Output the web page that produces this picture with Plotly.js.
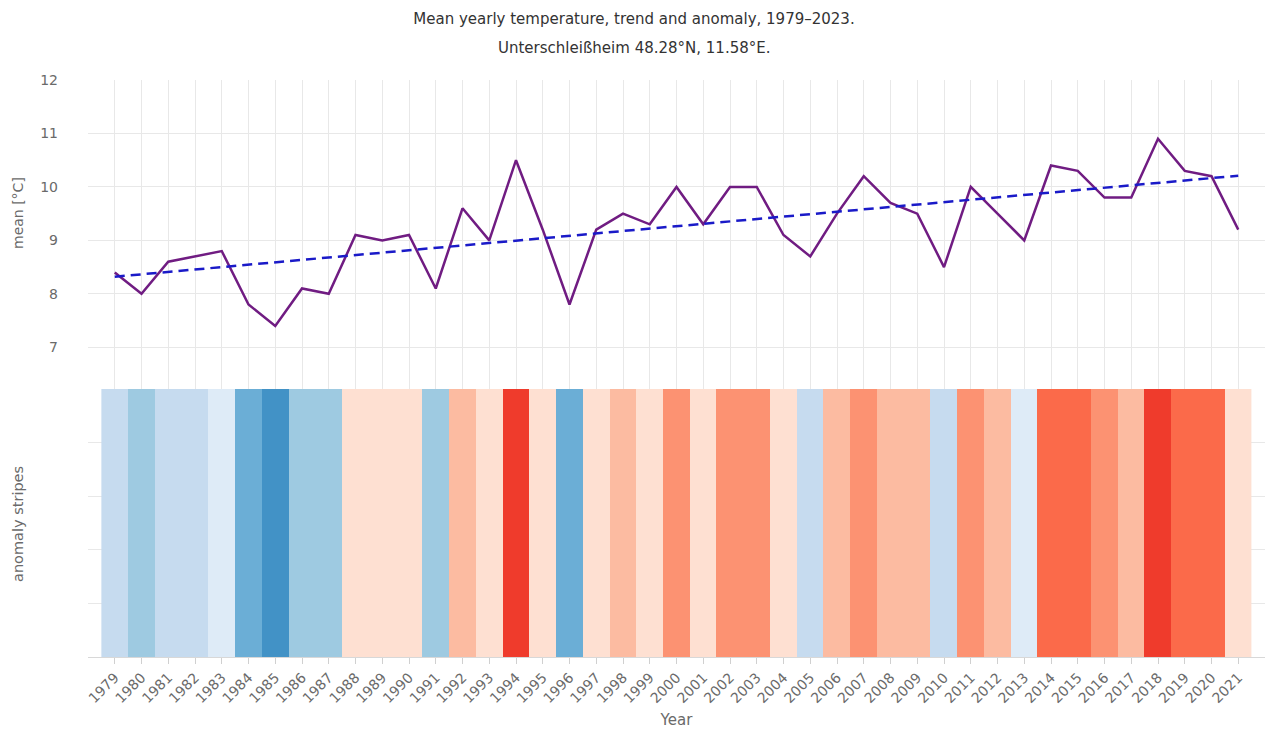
<!DOCTYPE html>
<html>
<head>
<meta charset="utf-8">
<script src="https://cdn.plot.ly/plotly-3.0.1.min.js"></script>
<style>html,body{margin:0;padding:0;background:#fff;}#chart{width:1268px;height:729px;}</style>
</head>
<body>
<div id="chart"></div>
<script>
const years = [1979,1980,1981,1982,1983,1984,1985,1986,1987,1988,1989,1990,1991,1992,1993,1994,1995,1996,1997,1998,1999,2000,2001,2002,2003,2004,2005,2006,2007,2008,2009,2010,2011,2012,2013,2014,2015,2016,2017,2018,2019,2020,2021];
const meanTemp = [8.4,8.0,8.6,8.7,8.8,7.8,7.4,8.1,8.0,9.1,9.0,9.1,8.1,9.6,9.0,10.5,9.2,7.8,9.2,9.5,9.3,10.0,9.3,10.0,10.0,9.1,8.7,9.5,10.2,9.7,9.5,8.5,10.0,9.5,9.0,10.4,10.3,9.8,9.8,10.9,10.3,10.2,9.2];
const trendYears = [1979, 2021];
const trendValues = [8.32, 10.21];
const anomaly = [-0.6,-1.0,-0.4,-0.4,-0.2,-1.2,-1.6,-0.9,-1.0,0.1,0.05,0.1,-0.9,0.6,0.05,1.5,0.2,-1.2,0.2,0.5,0.3,1.0,0.3,1.0,1.0,0.1,-0.4,0.5,1.0,0.65,0.5,-0.5,1.0,0.5,-0.05,1.35,1.3,0.8,0.68,1.7,1.3,1.2,0.2];
const stripeColors = ['#4292c6','#6baed6','#9ecae1','#c6dbef','#deebf7','#fee0d2','#fcbba1','#fc9272','#fb6a4a','#ef3b2c'];
const stripeSpan = [0, 5];

const colorscale = [];
stripeColors.forEach((c, i) => {
  colorscale.push([i / stripeColors.length, c]);
  colorscale.push([(i + 1) / stripeColors.length, c]);
});

const font = 'DejaVu Sans, sans-serif';
const grid = '#e8e8e8';
const tickColor = '#6a6a6a';

const traces = [
  {
    type: 'heatmap', x: years, y: stripeSpan, z: [anomaly],
    xaxis: 'x', yaxis: 'y',
    colorscale: colorscale, zmin: -1.75, zmax: 1.75, showscale: false,
    hoverinfo: 'x+z'
  },
  {
    type: 'scatter', mode: 'lines', x: years, y: meanTemp,
    xaxis: 'x', yaxis: 'y2',
    line: {color: '#701c82', width: 2.5}, name: 'mean'
  },
  {
    type: 'scatter', mode: 'lines', x: trendYears, y: trendValues,
    xaxis: 'x', yaxis: 'y2',
    line: {color: '#1a1ac8', width: 2.5, dash: '10px,6px'}, name: 'trend'
  }
];

const split = 0.4645;
const layout = {
  width: 1268, height: 729,
  paper_bgcolor: '#fff', plot_bgcolor: '#fff',
  margin: {l: 88, r: 3, t: 80, b: 72},
  showlegend: false,
  font: {family: font, size: 14, color: tickColor},
  title: {
    text: 'Mean yearly temperature, trend and anomaly, 1979–2023.',
    font: {family: font, size: 15, color: '#333'},
    x: 0.5, xanchor: 'center', y: 1 - 19 / 729, yanchor: 'middle'
  },
  xaxis: {
    anchor: 'y', range: [1978, 2022],
    tickmode: 'array', tickvals: years, ticktext: years.map(String),
    tickangle: -45, ticks: 'outside', ticklen: 6, tickcolor: '#d0d0d0',
    showgrid: true, gridcolor: grid, zeroline: false,
    showline: true, linecolor: '#d8d8d8', linewidth: 1,
    tickfont: {family: font, size: 14, color: tickColor},
    title: {text: 'Year', font: {family: font, size: 15, color: tickColor}, standoff: 10}
  },
  yaxis: {
    domain: [0, split], range: [0, 5], dtick: 1,
    showticklabels: false, showgrid: true, gridcolor: grid, zeroline: false, ticks: ''
  },
  yaxis2: {
    domain: [split, 1], range: [6.22, 12], dtick: 1,
    showgrid: true, gridcolor: grid, zeroline: false, ticks: '',
    ticklabelstandoff: 29,
    tickfont: {family: font, size: 14, color: tickColor}
  },
  annotations: [
    {text: 'Unterschleißheim 48.28°N, 11.58°E.', xref: 'paper', yref: 'paper',
     x: (634 - 88) / 1177, xanchor: 'center', y: (729 - 72 - 48) / 577, yanchor: 'middle',
     showarrow: false, font: {family: font, size: 15, color: '#333'}},
    {text: 'mean [°C]', xref: 'paper', yref: 'paper', textangle: -90,
     x: -70 / 1177, xanchor: 'center', y: (729 - 72 - 213) / 577, yanchor: 'middle',
     showarrow: false, font: {family: font, size: 14, color: tickColor}},
    {text: 'anomaly stripes', xref: 'paper', yref: 'paper', textangle: -90,
     x: -70 / 1177, xanchor: 'center', y: (729 - 72 - 524) / 577, yanchor: 'middle',
     showarrow: false, font: {family: font, size: 14.5, color: tickColor}}
  ]
};

Plotly.newPlot('chart', traces, layout, {displayModeBar: false, staticPlot: true});
</script>
</body>
</html>
